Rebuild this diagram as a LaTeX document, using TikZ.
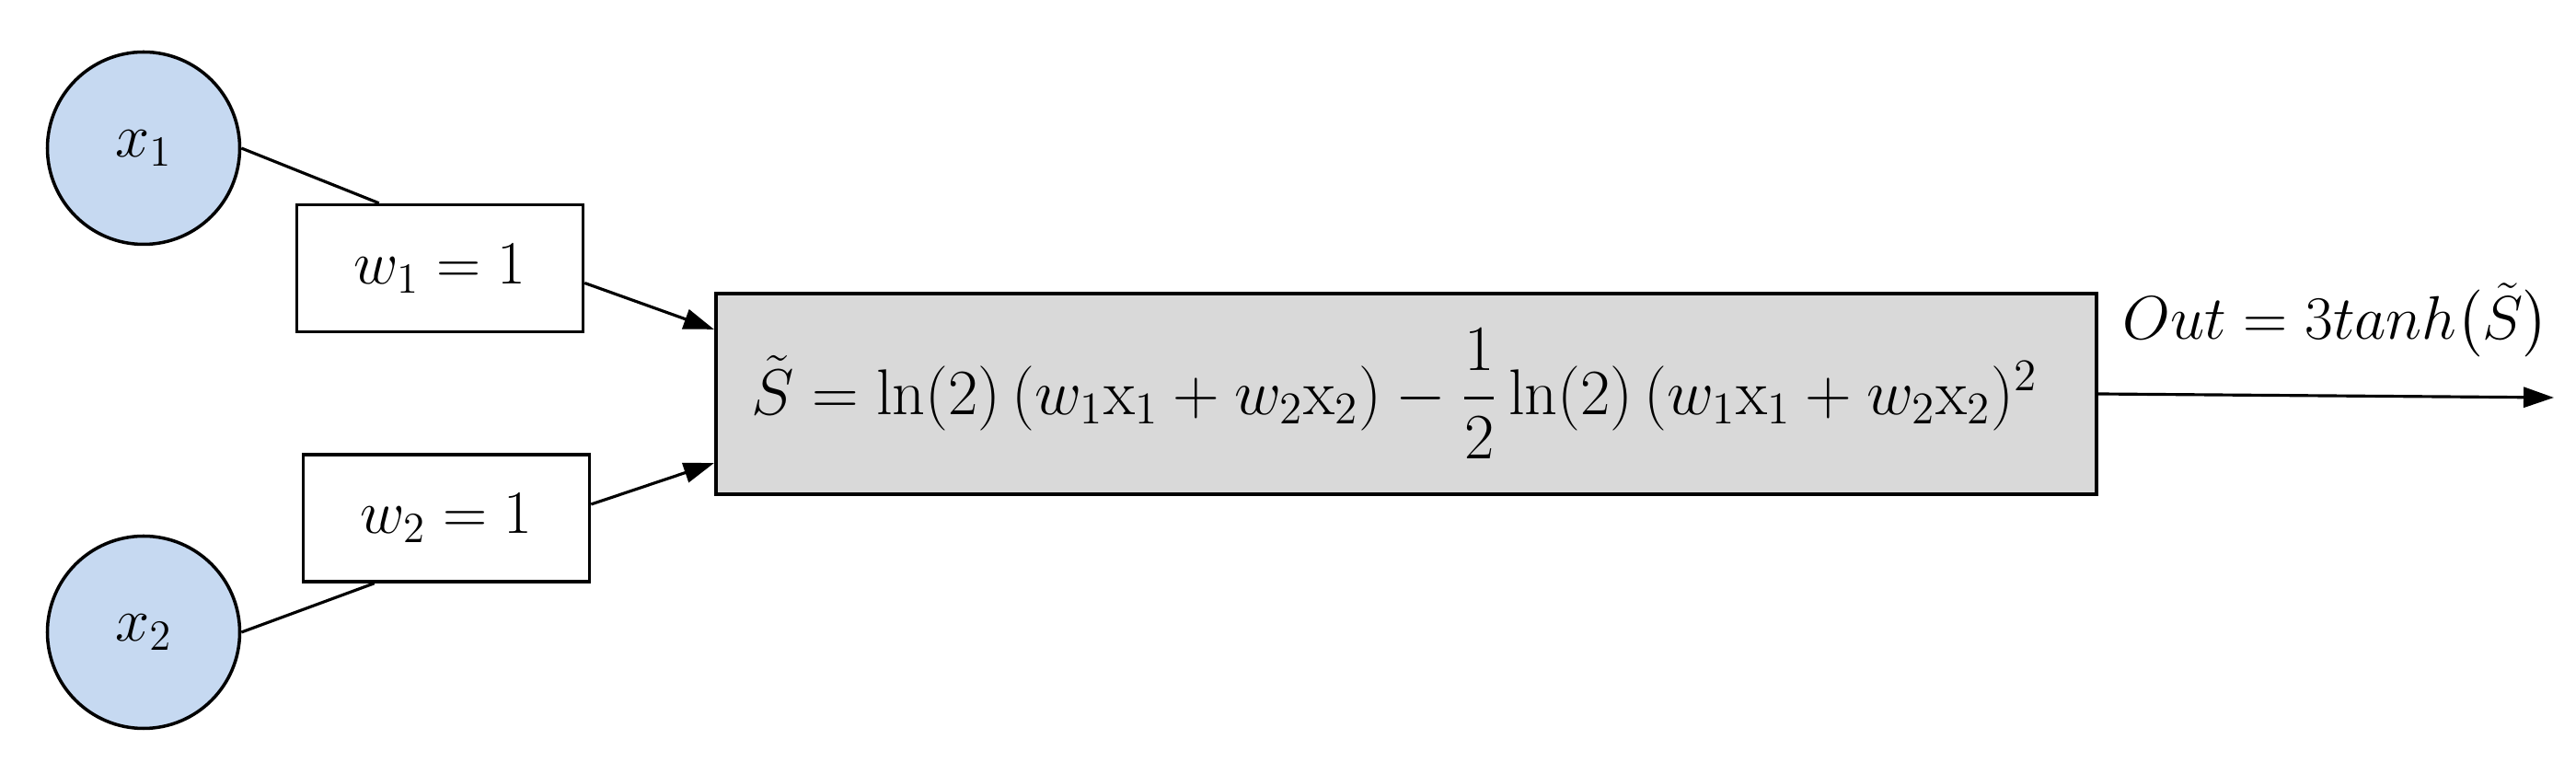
\RequirePackage{fix-cm}
\documentclass[tikz,border=0pt]{standalone}
\usepackage{amsmath}
\usetikzlibrary{arrows.meta}
\definecolor{inputblue}{RGB}{198,217,241}
\definecolor{sumgray}{RGB}{217,217,217}

\begin{document}
\begin{tikzpicture}[font=\fontsize{19}{23}\selectfont,
      input/.style={circle, draw, line width=1pt, fill=inputblue, minimum size=2.09cm, inner sep=0pt},
      weight/.style={rectangle, draw, line width=1pt, fill=white, minimum width=3.11cm, minimum height=1.38cm},
      sumbox/.style={rectangle, draw, line width=1.2pt, fill=sumgray, minimum width=15cm, minimum height=2.18cm,
            font=\fontsize{20}{24}\selectfont},
      link/.style={line width=0.9pt},
      >={Triangle[length=3.3mm, width=2.2mm]}]
      \useasboundingbox (0, 0) rectangle (27.99, -8.41);

      \node[input] (x1) at (1.56, -1.61) {$x_1$};
      \node[input] (x2) at (1.56, -6.87) {$x_2$};

      \node[weight] (w1) at (4.78, -2.915) {$w_1 = 1$};
      \node[weight] (w2) at (4.85, -5.63) {$w_2 = 1$};

      \node[sumbox] (S) at (15.28, -4.28) {\hspace*{-0.26cm}$\tilde{S} = \ln(2)\,(w_1\mathrm{x}_1 + w_2\mathrm{x}_2) - \dfrac{1}{2}\ln(2)\,(w_1\mathrm{x}_1 + w_2\mathrm{x}_2)^2$};

      \node (out) at (25.38, -3.50) {$Out = 3tanh\bigl(\tilde{S}\bigr)$};
      \coordinate (end) at (27.75, -4.32);

      \draw [link] (x1.east) -- ([xshift=0.91cm]w1.north west);
      \draw [link] (x2.east) -- ([xshift=0.79cm]w2.south west);
      \draw [link, ->] ([yshift=-0.16cm]w1.east) -- ([yshift=-0.41cm]S.north west);
      \draw [link, ->] ([yshift=0.15cm]w2.east) -- ([yshift=0.36cm]S.south west);
      \draw [link, ->] (S.east) -- (end);
\end{tikzpicture}
\end{document}
